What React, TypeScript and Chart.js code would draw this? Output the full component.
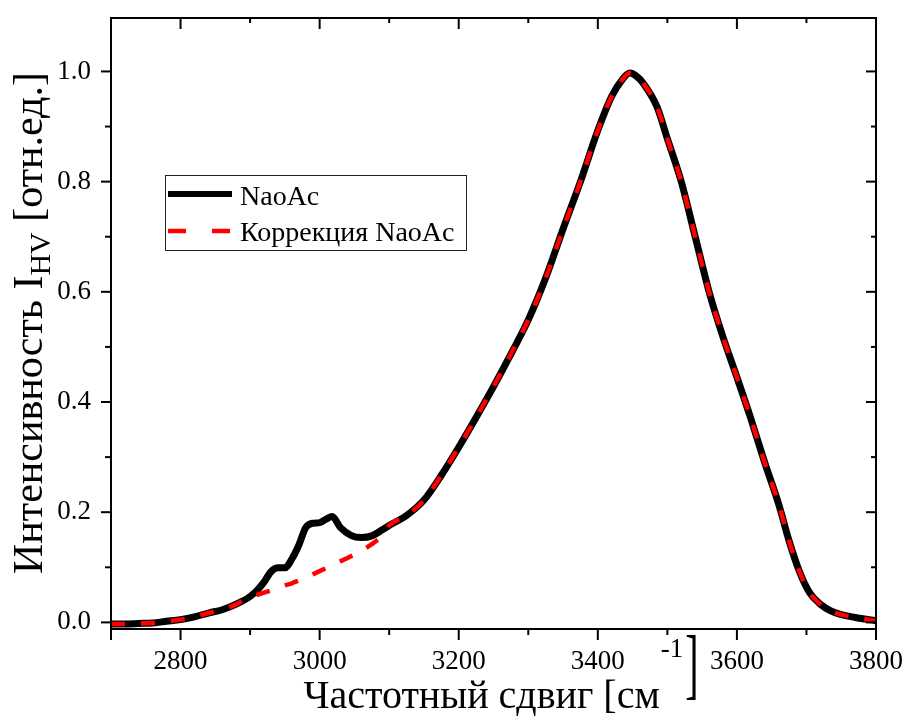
import React, { useEffect, useRef } from 'react';
import { Chart, registerables } from 'chart.js';

Chart.register(...registerables);

const FONT = '"Liberation Serif", "Times New Roman", serif';

// Raman shift, cm^-1
const shift = [
  2700, 2720, 2740, 2760, 2780, 2800, 2820, 2840, 2860, 2880, 2900,
  2910, 2920, 2930, 2940, 2950, 2960, 2970, 2980, 2990, 3000, 3010,
  3018, 3030, 3045, 3060, 3075, 3090, 3100,
  3125, 3150, 3175, 3200, 3225, 3250, 3275, 3300, 3325, 3350, 3375, 3400,
  3420, 3435, 3446, 3455, 3465, 3485, 3500,
  3520, 3540, 3560, 3580, 3600, 3620, 3640, 3660,
  3675, 3690, 3705, 3720, 3735, 3750,
  3770, 3800,
];

// NaoAc intensity
const naoAc = [
  -0.003, -0.003, -0.002, -0.001, 0.002, 0.005, 0.010, 0.017, 0.023, 0.033, 0.047,
  0.058, 0.073, 0.092, 0.099, 0.099, 0.115, 0.140, 0.172, 0.180, 0.181, 0.188,
  0.192, 0.172, 0.158, 0.154, 0.157, 0.168, 0.176,
  0.194, 0.222, 0.267, 0.318, 0.372, 0.428, 0.487, 0.549, 0.625, 0.714, 0.800, 0.893,
  0.955, 0.985, 0.997, 0.992, 0.979, 0.936, 0.878,
  0.800, 0.700, 0.600, 0.518, 0.445, 0.370, 0.290, 0.215,
  0.148, 0.092, 0.053, 0.033, 0.021, 0.014,
  0.009, 0.003,
];

// Corrected NaoAc
const correction = [
  -0.003, -0.003, -0.002, -0.001, 0.002, 0.005, 0.010, 0.017, 0.023, 0.033, 0.047,
  0.050, 0.054, 0.058, 0.062, 0.067, 0.071, 0.076, 0.081, 0.087, 0.093, 0.099,
  0.104, 0.111, 0.120, 0.130, 0.142, 0.158, 0.176,
  0.194, 0.222, 0.267, 0.318, 0.372, 0.428, 0.487, 0.549, 0.625, 0.714, 0.800, 0.893,
  0.955, 0.985, 0.997, 0.992, 0.979, 0.936, 0.878,
  0.800, 0.700, 0.600, 0.518, 0.445, 0.370, 0.290, 0.215,
  0.148, 0.092, 0.053, 0.033, 0.021, 0.014,
  0.009, 0.003,
];

const xLabeled = [2800, 3000, 3200, 3400, 3600, 3800];
const yLabeled = [0, 0.2, 0.4, 0.6, 0.8, 1.0];

const seriesNames = ['NaoAc', 'Коррекция NaoAc'];
const xTitleMain = 'Частотный сдвиг [см';
const xTitleSup = '-1';
const xTitleEnd = ']';
const yTitleMain = 'Интенсивность I';
const yTitleSub = 'HV';
const yTitleEnd = ' [отн.ед.]';

const isXMajor = (v: number) => xLabeled.some((m) => Math.abs(m - v) < 1e-6);
const isYMajor = (v: number) => yLabeled.some((m) => Math.abs(m - v) < 1e-6);

const framePlugin = {
  id: 'frameTicks',
  afterDraw(chart: any) {
    const { ctx, chartArea: ca, scales } = chart;
    const xs = scales.x;
    const ys = scales.y;
    ctx.save();
    ctx.strokeStyle = '#000';
    ctx.lineWidth = 2;
    ctx.lineCap = 'butt';
    const line = (x1: number, y1: number, x2: number, y2: number) => {
      ctx.beginPath();
      ctx.moveTo(x1, y1);
      ctx.lineTo(x2, y2);
      ctx.stroke();
    };
    xs.ticks.forEach((t: any) => {
      const px = xs.getPixelForValue(t.value);
      const major = isXMajor(t.value) || t.value === 2700;
      line(px, ca.bottom, px, ca.bottom + (major ? 11 : 6));
      line(px, ca.top, px, ca.top + (major ? 11 : 5));
    });
    ys.ticks.forEach((t: any) => {
      const py = ys.getPixelForValue(t.value);
      const major = isYMajor(t.value);
      line(ca.left, py, ca.left - (major ? 10 : 6), py);
      line(ca.right, py, ca.right - (major ? 10 : 5), py);
    });
    ctx.strokeRect(ca.left, ca.top, ca.right - ca.left, ca.bottom - ca.top);

    // Legend
    const ds = chart.data.datasets;
    ctx.lineWidth = 1;
    ctx.strokeStyle = '#222';
    ctx.strokeRect(165.5, 175.5, 301, 75);
    ctx.lineWidth = 6;
    ctx.strokeStyle = ds[1].borderColor;
    line(168, 194, 232, 194);
    ctx.lineWidth = 4.5;
    ctx.strokeStyle = ds[0].borderColor;
    ctx.setLineDash([18, 26]);
    line(168, 231, 232, 231);
    ctx.setLineDash([]);
    ctx.fillStyle = '#000';
    ctx.font = `28px ${FONT}`;
    ctx.textAlign = 'left';
    ctx.textBaseline = 'alphabetic';
    ctx.fillText(ds[1].label, 240, 205);
    ctx.fillText(ds[0].label, 240, 241);

    // X title
    ctx.font = `40px ${FONT}`;
    const wMain = ctx.measureText(xTitleMain).width;
    ctx.font = `27px ${FONT}`;
    const wSup = ctx.measureText(xTitleSup).width;
    ctx.font = `40px ${FONT}`;
    const wEnd = ctx.measureText(xTitleEnd).width;
    const total = wMain + wSup + wEnd + 3;
    const x0 = 501 - total / 2;
    ctx.fillText(xTitleMain, x0, 708);
    ctx.font = `27px ${FONT}`;
    ctx.fillText(xTitleSup, x0 + wMain + 1, 657);
    ctx.font = `40px ${FONT}`;
    ctx.save();
    ctx.translate(x0 + wMain + wSup + 3, 690);
    ctx.scale(1, 1.95);
    ctx.fillText(xTitleEnd, 0, 0);
    ctx.restore();

    // Y title (rotated)
    ctx.save();
    ctx.translate(42, 0);
    ctx.rotate(-Math.PI / 2);
    ctx.font = `42px ${FONT}`;
    const a = ctx.measureText(yTitleMain).width;
    const c = ctx.measureText(yTitleEnd).width;
    ctx.font = `30px ${FONT}`;
    const b = ctx.measureText(yTitleSub).width;
    const totalY = a + b + c;
    const centerY = 323;
    const start = -(centerY + totalY / 2);
    ctx.font = `42px ${FONT}`;
    ctx.fillText(yTitleMain, start, 0);
    ctx.font = `30px ${FONT}`;
    ctx.fillText(yTitleSub, start + a, 8);
    ctx.font = `42px ${FONT}`;
    ctx.fillText(yTitleEnd, start + a + b, 0);
    ctx.restore();

    ctx.restore();
  },
};

export default function App() {
  const ref = useRef<HTMLCanvasElement | null>(null);

  useEffect(() => {
    if (!ref.current) return;
    const chart = new Chart(ref.current, {
      type: 'line',
      data: {
        datasets: [
          {
            label: seriesNames[1],
            data: shift.map((x, i) => ({ x, y: correction[i] })),
            borderColor: '#ff0000',
            borderWidth: 4.5,
            borderDash: [14, 16],
            pointRadius: 0,
            cubicInterpolationMode: 'monotone',
            order: 0,
          },
          {
            label: seriesNames[0],
            data: shift.map((x, i) => ({ x, y: naoAc[i] })),
            borderColor: '#000000',
            borderWidth: 7,
            pointRadius: 0,
            cubicInterpolationMode: 'monotone',
            order: 1,
          },
        ],
      },
      options: {
        responsive: false,
        animation: false,
        layout: { padding: { top: 18, right: 30, left: 0, bottom: 0 } },
        plugins: {
          legend: { display: false },
          tooltip: { enabled: false },
        },
        scales: {
          x: {
            type: 'linear',
            min: 2700,
            max: 3800,
            grid: { display: false, drawTicks: false },
            border: { display: false },
            ticks: {
              stepSize: 100,
              includeBounds: false,
              maxRotation: 0,
              autoSkip: false,
              padding: 17,
              color: '#000',
              font: { family: FONT, size: 27 },
              callback: (v: any) => (isXMajor(Number(v)) ? String(v) : ''),
            },
            afterFit: (s: any) => {
              s.height = 87;
              s.paddingLeft = 0;
              s.paddingRight = 0;
            },
          },
          y: {
            type: 'linear',
            min: -0.012,
            max: 1.097,
            grid: { display: false, drawTicks: false },
            border: { display: false },
            ticks: {
              stepSize: 0.1,
              includeBounds: false,
              autoSkip: false,
              padding: 20,
              color: '#000',
              font: { family: FONT, size: 27 },
              callback: (v: any) => (isYMajor(Number(v)) ? Number(v).toFixed(1) : ''),
            },
            afterFit: (s: any) => {
              s.width = 111;
              s.paddingTop = 0;
              s.paddingBottom = 0;
            },
          },
        },
      },
      plugins: [framePlugin],
    } as any);
    return () => chart.destroy();
  }, []);

  return (
    <div style={{ position: 'absolute', left: 0, top: 0, width: 906, height: 716, background: '#fff' }}>
      <canvas ref={ref} width={906} height={716} style={{ display: 'block' }} />
    </div>
  );
}
